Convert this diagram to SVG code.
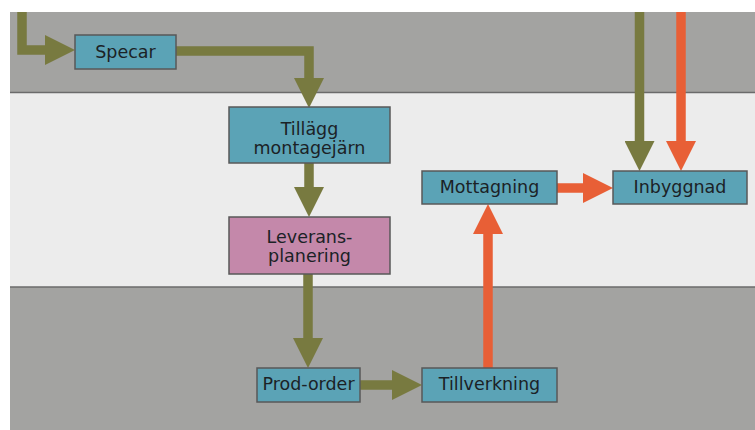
<svg xmlns="http://www.w3.org/2000/svg" width="755" height="430" viewBox="0 0 755 430">
  <defs>
    <style>
      .band-dark { fill: #a3a3a1; }
      .band-light { fill: #ececec; }
      .divider { stroke: #6b6b6b; stroke-width: 1.5; }
      .box { fill: #5ba3b6; stroke: #585858; stroke-width: 1.5; }
      .box-alt { fill: #c488aa; stroke: #585858; stroke-width: 1.5; }
      .label { font-family: "DejaVu Sans", "Liberation Sans", sans-serif; font-size: 17.5px; fill: #1b2226; text-anchor: middle; }
      .flow-olive { fill: none; stroke: #787a40; stroke-width: 9.5; }
      .flow-orange { fill: none; stroke: #e85f36; stroke-width: 9.5; }
    </style>
    <marker id="head-olive" viewBox="0 0 30 30" markerUnits="userSpaceOnUse" markerWidth="30" markerHeight="30" refX="0" refY="15" orient="auto">
      <path d="M0,0 L30,15 L0,30 Z" fill="#787a40"/>
    </marker>
    <marker id="head-orange" viewBox="0 0 30 30" markerUnits="userSpaceOnUse" markerWidth="30" markerHeight="30" refX="0" refY="15" orient="auto">
      <path d="M0,0 L30,15 L0,30 Z" fill="#e85f36"/>
    </marker>
  </defs>

  <rect width="755" height="430" fill="#ffffff"/>

  <!-- swimlane bands -->
  <g id="lanes">
    <rect class="band-dark" x="10" y="12" width="745" height="81"/>
    <rect class="band-light" x="10" y="93" width="745" height="194"/>
    <rect class="band-dark" x="10" y="287" width="745" height="143"/>
    <line class="divider" x1="10" y1="92.5" x2="755" y2="92.5"/>
    <line class="divider" x1="10" y1="287" x2="755" y2="287"/>
  </g>

  <!-- connectors -->
  <g id="connectors">
    <path class="flow-olive" d="M22,12 V50 H45" marker-end="url(#head-olive)"/>
    <path class="flow-olive" d="M176,51 H309 V78" marker-end="url(#head-olive)"/>
    <path class="flow-olive" d="M309,163 V187" marker-end="url(#head-olive)"/>
    <path class="flow-olive" d="M308,274 V338" marker-end="url(#head-olive)"/>
    <path class="flow-olive" d="M360,385 H392" marker-end="url(#head-olive)"/>
    <path class="flow-orange" d="M488,368 V234" marker-end="url(#head-orange)"/>
    <path class="flow-orange" d="M557,188 H583" marker-end="url(#head-orange)"/>
    <path class="flow-olive" d="M639.5,12 V141" marker-end="url(#head-olive)"/>
    <path class="flow-orange" d="M681,12 V141" marker-end="url(#head-orange)"/>
  </g>

  <!-- nodes -->
  <g id="specar">
    <rect class="box" x="75" y="35" width="101" height="34"/>
    <text class="label" x="125.5" y="57.5">Specar</text>
  </g>
  <g id="tillagg-montagejarn">
    <rect class="box" x="229" y="107" width="161" height="56"/>
    <text class="label" x="309.5" y="134.5">Tillägg</text>
    <text class="label" x="309.5" y="154">montagejärn</text>
  </g>
  <g id="leveransplanering">
    <rect class="box-alt" x="229" y="217" width="161" height="57"/>
    <text class="label" x="309.5" y="242.5">Leverans-</text>
    <text class="label" x="309.5" y="262">planering</text>
  </g>
  <g id="prod-order">
    <rect class="box" x="257" y="368" width="103" height="34"/>
    <text class="label" x="308.5" y="390">Prod-order</text>
  </g>
  <g id="tillverkning">
    <rect class="box" x="422" y="368" width="135" height="34"/>
    <text class="label" x="489.5" y="390">Tillverkning</text>
  </g>
  <g id="mottagning">
    <rect class="box" x="422" y="171" width="135" height="33"/>
    <text class="label" x="489.5" y="193">Mottagning</text>
  </g>
  <g id="inbyggnad">
    <rect class="box" x="613" y="171" width="134" height="33"/>
    <text class="label" x="680" y="193">Inbyggnad</text>
  </g>
</svg>
